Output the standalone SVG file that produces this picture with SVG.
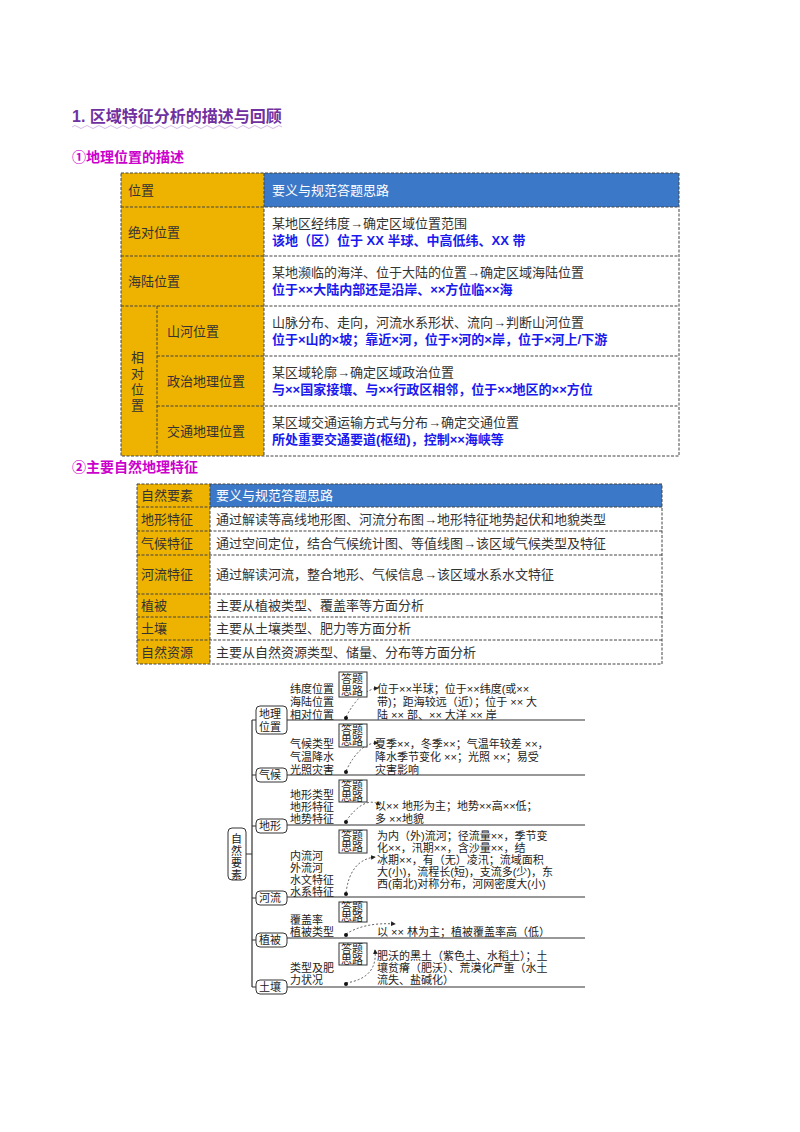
<svg xmlns="http://www.w3.org/2000/svg" width="800" height="1132" viewBox="0 0 800 1132">
<defs>
<marker id="ar" markerWidth="6" markerHeight="6" refX="5" refY="3" orient="auto"><path d="M0,0 L6,3 L0,6 z" fill="#222"/></marker>
<style>
text{font-family:"Liberation Sans","Noto Sans CJK SC",sans-serif;}
.t{font-size:13px;fill:#333;}
.b{font-size:13px;fill:#1a1aee;font-weight:bold;}
.w{font-size:13px;fill:#fff;}
.g{fill:#EEB200;}
.bl{fill:#3B78C8;}
.cell{fill:none;stroke:#444;stroke-width:1;stroke-dasharray:3,1.5;}
.s{font-size:11px;fill:#222;}
.ln{stroke:#333;stroke-width:1.2;fill:none;}
.dc{stroke:#333;stroke-width:0.8;fill:none;stroke-dasharray:2,2;}
.nb{fill:#fff;stroke:#333;stroke-width:1;}
</style>
</defs>
<text x="72" y="122" style="font-size:16px;font-weight:bold;fill:#7030A0">1. 区域特征分析的描述与回顾</text>
<path d="M72,127 q3,-3 6,0 t6,0 t6,0 t6,0 t6,0 t6,0 t6,0 t6,0 t6,0 t6,0 t6,0 t6,0 t6,0 t6,0 t6,0 t6,0 t6,0 t6,0 t6,0 t6,0 t6,0 t6,0 t6,0 t6,0 t6,0 t6,0 t6,0 t6,0 t6,0 t6,0 t6,0 t6,0 t6,0 t6,0 t6,0" fill="none" stroke="#c8a8e0" stroke-width="0.8"/>
<text x="72" y="162" style="font-size:14px;font-weight:bold;fill:#CC00CC">①地理位置的描述</text>
<g id="table1">
<rect x="121" y="173" width="143" height="283" class="g"/>
<rect x="264" y="173" width="415" height="34" class="bl"/>
<rect x="121" y="173" width="558" height="283" class="cell"/>
<path d="M264,173V456 M121,207H679 M121,256H679 M121,306H679 M157,356H679 M157,406H679 M157,306V456" class="cell"/>
<text x="128" y="195" class="t">位置</text>
<text x="272" y="195" class="w">要义与规范答题思路</text>
<text x="128" y="237" class="t">绝对位置</text>
<text x="272" y="228" class="t">某地区经纬度→确定区域位置范围</text>
<text x="272" y="245" class="b">该地（区）位于 XX 半球、中高低纬、XX 带</text>
<text x="128" y="286" class="t">海陆位置</text>
<text x="272" y="277" class="t">某地濒临的海洋、位于大陆的位置→确定区域海陆位置</text>
<text x="272" y="294" class="b">位于××大陆内部还是沿岸、××方位临××海</text>
<text x="131" y="362" class="t">相</text><text x="131" y="378" class="t">对</text><text x="131" y="394" class="t">位</text><text x="131" y="410" class="t">置</text>
<text x="167" y="336" class="t">山河位置</text>
<text x="272" y="327" class="t">山脉分布、走向，河流水系形状、流向→判断山河位置</text>
<text x="272" y="344" class="b">位于×山的×坡；靠近×河，位于×河的×岸，位于×河上/下游</text>
<text x="167" y="386" class="t">政治地理位置</text>
<text x="272" y="377" class="t">某区域轮廓→确定区域政治位置</text>
<text x="272" y="394" class="b">与××国家接壤、与××行政区相邻，位于××地区的××方位</text>
<text x="167" y="436" class="t">交通地理位置</text>
<text x="272" y="427" class="t">某区域交通运输方式与分布→确定交通位置</text>
<text x="272" y="444" class="b">所处重要交通要道(枢纽)，控制××海峡等</text>
</g>
<text x="72" y="472" style="font-size:14px;font-weight:bold;fill:#CC00CC">②主要自然地理特征</text>
<g id="table2">
<rect x="137" y="484" width="73" height="180" class="g"/>
<rect x="210" y="484" width="452" height="23" class="bl"/>
<rect x="137" y="484" width="525" height="180" class="cell"/>
<path d="M210,484V664 M137,507H662 M137,531H662 M137,555H662 M137,594H662 M137,617H662 M137,640H662" class="cell"/>
<text x="141" y="500" class="t">自然要素</text><text x="216" y="500" class="w">要义与规范答题思路</text>
<text x="141" y="524" class="t">地形特征</text><text x="216" y="524" class="t">通过解读等高线地形图、河流分布图→地形特征地势起伏和地貌类型</text>
<text x="141" y="548" class="t">气候特征</text><text x="216" y="548" class="t">通过空间定位，结合气候统计图、等值线图→该区域气候类型及特征</text>
<text x="141" y="579" class="t">河流特征</text><text x="216" y="579" class="t">通过解读河流，整合地形、气候信息→该区域水系水文特征</text>
<text x="141" y="610" class="t">植被</text><text x="216" y="610" class="t">主要从植被类型、覆盖率等方面分析</text>
<text x="141" y="633" class="t">土壤</text><text x="216" y="633" class="t">主要从土壤类型、肥力等方面分析</text>
<text x="141" y="657" class="t">自然资源</text><text x="216" y="657" class="t">主要从自然资源类型、储量、分布等方面分析</text>
</g>
<g id="connectors">
<path class="ln" d="M246,854H252 M252,720V987 M252,720H256 M252,775H256 M252,826H256 M252,898H256 M252,940H256 M252,987H256"/>
<path class="ln" d="M287,720H585 M287,775H585 M287,825H585 M287,897H585 M287,938H585 M287,987H585"/>
<path class="dc" d="M346,717 Q360,690 378,688" marker-end="url(#ar)"/>
<path class="dc" d="M346,771 Q360,742 378,743" marker-end="url(#ar)"/>
<path class="dc" d="M346,821 Q365,795 380,805" marker-end="url(#ar)"/>
<path class="dc" d="M346,893 Q350,860 375,857" marker-end="url(#ar)"/>
<path class="dc" d="M346,934 Q365,922 395,924" marker-end="url(#ar)"/>
<path class="dc" d="M346,983 Q378,978 375,950" marker-end="url(#ar)"/>
</g>
<circle cx="346" cy="718" r="2" fill="#111"/><circle cx="346" cy="772" r="2" fill="#111"/><circle cx="346" cy="822" r="2" fill="#111"/><circle cx="346" cy="894" r="2" fill="#111"/><circle cx="346" cy="935" r="2" fill="#111"/><circle cx="346" cy="984" r="2" fill="#111"/>
<g id="n-ziran"><rect x="228" y="828" width="18" height="52" rx="4" class="nb"/><text x="231" y="843" class="s">自</text><text x="231" y="855" class="s">然</text><text x="231" y="867" class="s">要</text><text x="231" y="879" class="s">素</text></g>
<g id="n-dili"><rect x="256" y="706" width="31" height="28" rx="4" class="nb"/><text x="259" y="718" class="s">地理</text><text x="259" y="731" class="s">位置</text></g>
<g id="n-qihou"><rect x="256" y="768" width="31" height="14" rx="4" class="nb"/><text x="259" y="779" class="s">气候</text></g>
<g id="n-dixing"><rect x="256" y="819" width="31" height="14" rx="4" class="nb"/><text x="259" y="830" class="s">地形</text></g>
<g id="n-heliu"><rect x="256" y="891" width="31" height="14" rx="4" class="nb"/><text x="259" y="902" class="s">河流</text></g>
<g id="n-zhibei"><rect x="256" y="933" width="31" height="14" rx="4" class="nb"/><text x="259" y="944" class="s">植被</text></g>
<g id="n-turang"><rect x="256" y="980" width="31" height="14" rx="4" class="nb"/><text x="259" y="991" class="s">土壤</text></g>
<g id="boxes">
<rect x="339" y="672" width="28" height="25" fill="#fff" stroke="#333"/><text x="341" y="683" class="s">答题</text><text x="341" y="695" class="s">思路</text>
<rect x="339" y="724" width="28" height="23" fill="#fff" stroke="#333"/><text x="341" y="734" class="s">答题</text><text x="341" y="745" class="s">思路</text>
<rect x="339" y="780" width="28" height="22" fill="#fff" stroke="#333"/><text x="341" y="790" class="s">答题</text><text x="341" y="801" class="s">思路</text>
<rect x="339" y="830" width="28" height="23" fill="#fff" stroke="#333"/><text x="341" y="840" class="s">答题</text><text x="341" y="851" class="s">思路</text>
<rect x="339" y="902" width="28" height="20" fill="#fff" stroke="#333"/><text x="341" y="911" class="s">答题</text><text x="341" y="921" class="s">思路</text>
<rect x="339" y="943" width="28" height="22" fill="#fff" stroke="#333"/><text x="341" y="953" class="s">答题</text><text x="341" y="964" class="s">思路</text>
</g>
<g id="texts">
<text x="290" y="693" class="s">纬度位置</text><text x="290" y="706" class="s">海陆位置</text><text x="290" y="719" class="s">相对位置</text>
<text x="377" y="693" class="s">位于××半球；位于××纬度(或××</text><text x="377" y="706" class="s">带)；距海较远（近）；位于 ×× 大</text><text x="377" y="719" class="s">陆 ×× 部、×× 大洋 ×× 岸</text>
<text x="290" y="748" class="s">气候类型</text><text x="290" y="761" class="s">气温降水</text><text x="290" y="774" class="s">光照灾害</text>
<text x="375" y="748" class="s">夏季××，冬季××；气温年较差 ××，</text><text x="375" y="761" class="s">降水季节变化 ××；光照 ××；易受</text><text x="375" y="774" class="s">灾害影响</text>
<text x="290" y="799" class="s">地形类型</text><text x="290" y="811" class="s">地形特征</text><text x="290" y="823" class="s">地势特征</text>
<text x="375" y="810" class="s">以×× 地形为主；地势××高××低；</text><text x="375" y="823" class="s">多 ××地貌</text>
<text x="290" y="860" class="s">内流河</text><text x="290" y="872" class="s">外流河</text><text x="290" y="884" class="s">水文特征</text><text x="290" y="896" class="s">水系特征</text>
<text x="377" y="840" class="s">为内（外)流河；径流量××，季节变</text><text x="377" y="852" class="s">化××，汛期××，含沙量××，结</text><text x="377" y="864" class="s">冰期××，有（无）凌汛；流域面积</text><text x="377" y="876" class="s">大(小)，流程长(短)，支流多(少)，东</text><text x="377" y="888" class="s">西(南北)对称分布，河网密度大(小)</text>
<text x="290" y="924" class="s">覆盖率</text><text x="290" y="936" class="s">植被类型</text>
<text x="377" y="936" class="s">以 ×× 林为主；植被覆盖率高（低）</text>
<text x="290" y="972" class="s">类型及肥</text><text x="290" y="984" class="s">力状况</text>
<text x="377" y="960" class="s">肥沃的黑土（紫色土、水稻土）；土</text><text x="377" y="972" class="s">壤贫瘠（肥沃）、荒漠化严重（水土</text><text x="377" y="984" class="s">流失、盐碱化）</text>
</g>
</svg>
